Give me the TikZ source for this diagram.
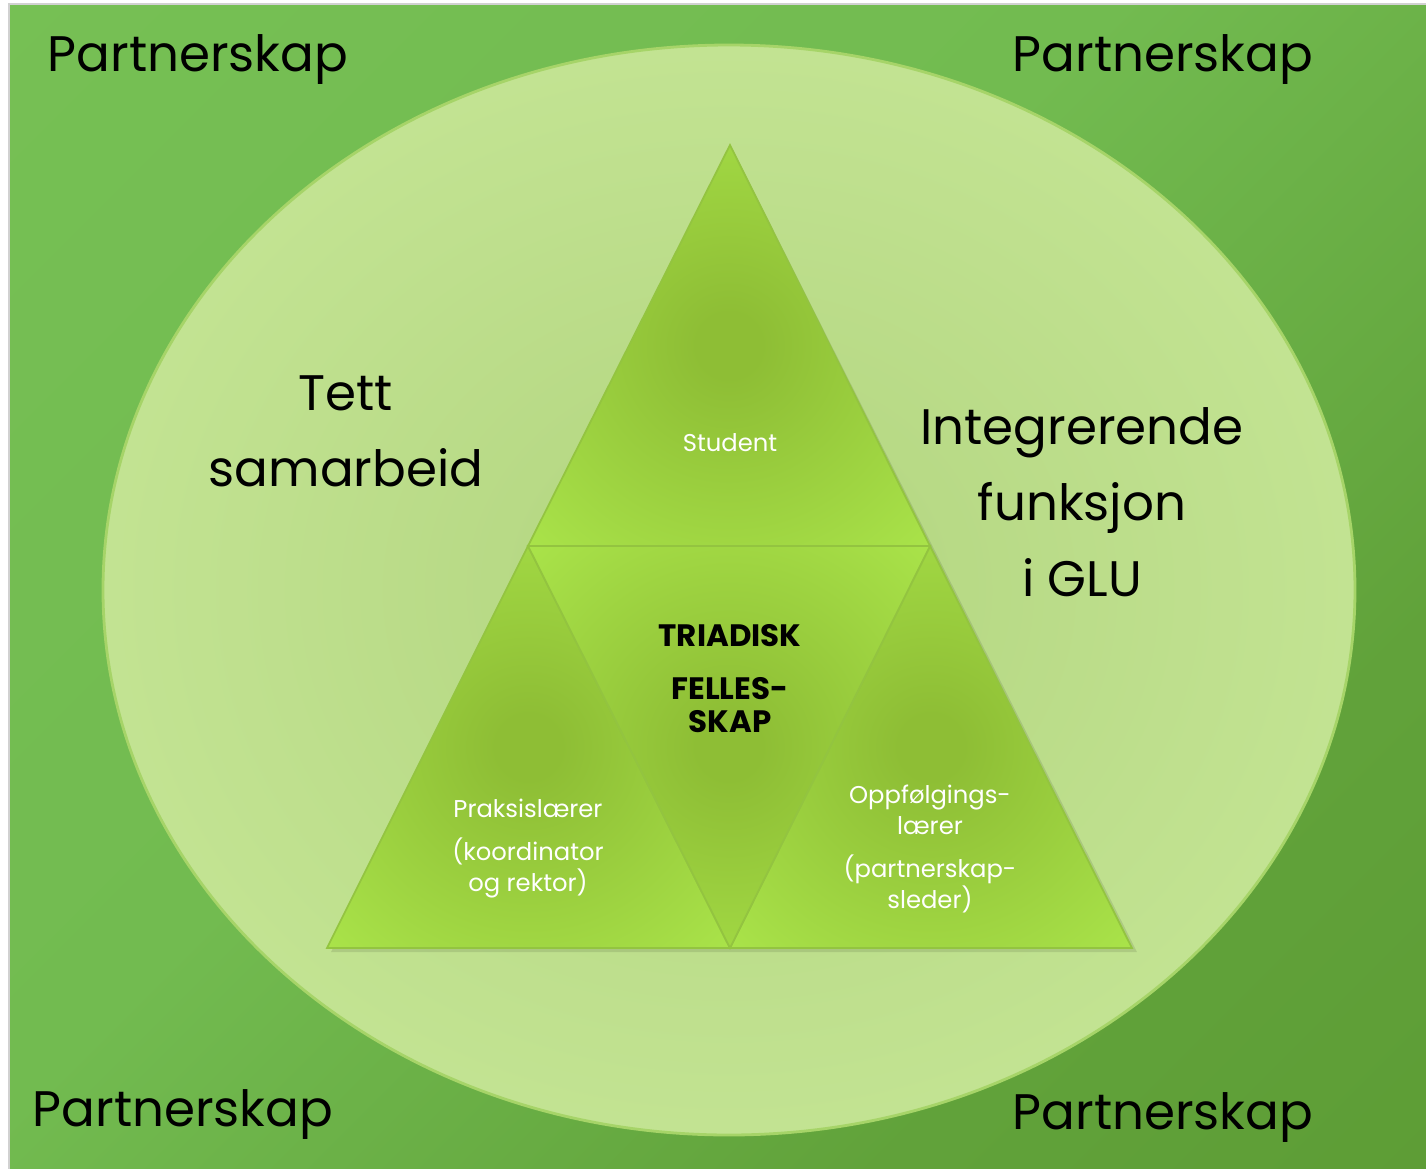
\documentclass[tikz,border=0pt]{standalone}
\usepackage{fontspec}
\setmainfont{Poppins}
\usepackage{tikz}
\usetikzlibrary{backgrounds}
\pgfdeclarelayer{shadelayer}
\pgfdeclarelayer{textlayer}
\pgfsetlayers{shadelayer,main,textlayer}
\definecolor{bgtop}{HTML}{78C256}
\definecolor{bgmid}{HTML}{72BB50}
\definecolor{bgbot}{HTML}{5A9831}
\definecolor{ovalout}{HTML}{CBEB9C}
\definecolor{ovalin}{HTML}{B7D985}
\definecolor{ovaledge}{HTML}{A6D468}
\definecolor{trilight}{HTML}{AAE44A}
\definecolor{tridark}{HTML}{8EBE35}
\definecolor{triedge}{HTML}{93C440}
\pgfdeclareradialshading{trishade}{\pgfpoint{0bp}{0bp}}{color(0bp)=(tridark); color(4bp)=(tridark); color(36bp)=(trilight); color(50bp)=(trilight)}
\pgfdeclareradialshading{downshade}{\pgfpoint{0bp}{0bp}}{color(0bp)=(tridark); color(4bp)=(tridark); color(36bp)=(trilight); color(50bp)=(trilight)}
\pgfdeclareradialshading{ovalshade}{\pgfpoint{0bp}{0bp}}{color(0bp)=(ovalin); color(8bp)=(ovalin); color(38bp)=(ovalout); color(50bp)=(ovalout)}
\pgfdeclarehorizontalshading{backshade}{100bp}{color(0bp)=(bgbot); color(30bp)=(bgbot!70!bgmid); color(55bp)=(bgmid); color(100bp)=(bgtop)}
\tikzstyle{none}=[inner sep=0pt]
\tikzstyle{biglabel}=[align=center, text=black, font=\fontsize{14.2}{21.6}\selectfont]
\tikzstyle{smalllabel}=[align=center, text=white, inner sep=0pt, font=\fontsize{6.9}{8.8}\selectfont]
\tikzstyle{boldlabel}=[align=center, text=black, inner sep=0pt, font=\fontsize{8.8}{9.6}\selectfont\bfseries]
\tikzstyle{upper}=[shading=trishade, draw=triedge, line width=0.5pt]
\tikzstyle{lower}=[shading=downshade, draw=triedge, line width=0.5pt]

\begin{document}
\begin{tikzpicture}[x=0.01cm, y=-0.01cm]
	\useasboundingbox (0,0) rectangle (1426,1169);
	\begin{pgfonlayer}{shadelayer}
		\fill [black!18] (8,3) rectangle (1426,1169);
		\shade [shading=backshade, shading angle=135] (10,5) rectangle (1426,1169);
		\shade [shading=ovalshade, draw=ovaledge, line width=0.8pt] (729,590) ellipse [x radius=626, y radius=545];
	\end{pgfonlayer}
	\node [style=none] (A) at (730,145) {};
	\node [style=none] (L) at (327,948) {};
	\node [style=none] (R) at (1132,948) {};
	\node [style=none] (AL) at (528,546) {};
	\node [style=none] (AR) at (930,546) {};
	\node [style=none] (LR) at (730,948) {};
	\fill [black, opacity=0.10] (733,150) -- (1137,952) -- (331,952) -- cycle;
	\shade [style=upper] (A.center) -- (AR.center) -- (AL.center) -- cycle;
	\shade [style=upper] (AL.center) -- (LR.center) -- (L.center) -- cycle;
	\shade [style=upper] (AR.center) -- (R.center) -- (LR.center) -- cycle;
	\shade [style=lower] (AL.center) -- (AR.center) -- (LR.center) -- cycle;
	\begin{pgfonlayer}{textlayer}
		\node [style=biglabel] (p1) at (198,60) {Partnerskap};
		\node [style=biglabel] (p2) at (1163,60) {Partnerskap};
		\node [style=biglabel] (p3) at (183,1115) {Partnerskap};
		\node [style=biglabel] (p4) at (1163,1118) {Partnerskap};
		\node [style=biglabel] (tett) at (346,431) {Tett\\samarbeid};
		\node [style=biglabel] (integ) at (1082,502) {Integrerende\\funksjon\\i GLU};
		\node [style=smalllabel] (student) at (730,443) {Student};
		\node [style=boldlabel] (triad) at (730,636) {TRIADISK};
		\node [style=boldlabel] (felles) at (730,705) {FELLES-\\SKAP};
		\node [style=smalllabel] (praks) at (528,808) {Praksislærer};
		\node [style=smalllabel] (koord) at (528,868) {(koordinator\\og rektor)};
		\node [style=smalllabel] (oppf) at (930,810) {Oppfølgings-\\lærer};
		\node [style=smalllabel] (pleder) at (930,884) {(partnerskap-\\sleder)};
	\end{pgfonlayer}
\end{tikzpicture}
\end{document}
